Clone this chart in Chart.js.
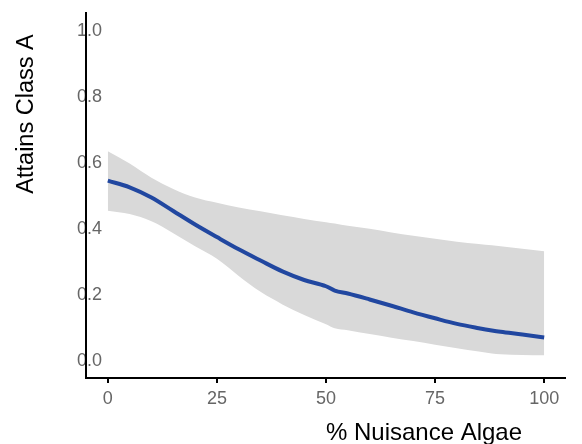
<!DOCTYPE html>
<html>
<head>
<meta charset="utf-8">
<script src="https://cdn.jsdelivr.net/npm/chart.js@4/dist/chart.umd.min.js"></script>
<style>
html,body{margin:0;padding:0;background:#fff;}
#wrap{width:582px;height:444px;position:relative;}
</style>
</head>
<body>
<div id="wrap"><canvas id="c" width="582" height="444"></canvas></div>
<script>
const xValues = [0, 5, 10, 15, 20, 25, 30, 35, 40, 45, 50, 52, 55, 60, 65, 70, 75, 80, 85, 88, 90, 95, 100];
const fitValues = [0.548, 0.528, 0.497, 0.456, 0.415, 0.377, 0.340, 0.306, 0.273, 0.247, 0.228, 0.215, 0.206, 0.188, 0.169, 0.149, 0.131, 0.114, 0.101, 0.094, 0.090, 0.082, 0.073];
const upperValues = [0.637, 0.600, 0.557, 0.523, 0.497, 0.481, 0.467, 0.455, 0.443, 0.432, 0.422, 0.418, 0.411, 0.402, 0.391, 0.381, 0.372, 0.363, 0.356, 0.352, 0.349, 0.342, 0.334];
const lowerValues = [0.457, 0.447, 0.425, 0.389, 0.349, 0.311, 0.259, 0.211, 0.173, 0.141, 0.113, 0.101, 0.095, 0.083, 0.072, 0.062, 0.051, 0.040, 0.030, 0.024, 0.022, 0.020, 0.019];
const xTicks = [0, 25, 50, 75, 100];
const yTicks = [0.0, 0.2, 0.4, 0.6, 0.8, 1.0];
const xTitle = "% Nuisance Algae";
const yTitle = "Attains Class A";

const pts = arr => xValues.map((x, i) => ({x: x, y: arr[i]}));

const axesPlugin = {
  id: 'axesPlugin',
  afterDraw(chart) {
    const ctx = chart.ctx;
    const ca = chart.chartArea;
    ctx.save();
    ctx.strokeStyle = '#000';
    ctx.lineWidth = 2;
    ctx.beginPath();
    ctx.moveTo(ca.left, ca.top - 3);
    ctx.lineTo(ca.left, ca.bottom);
    ctx.lineTo(ca.right, ca.bottom);
    ctx.stroke();
    ctx.fillStyle = '#000';
    ctx.textAlign = 'center';
    ctx.textBaseline = 'alphabetic';
    ctx.font = '24px "Liberation Sans", Arial, sans-serif';
    ctx.fillText(xTitle, 424, 440);
    ctx.font = '23.5px "Liberation Sans", Arial, sans-serif';
    ctx.translate(33, 114);
    ctx.rotate(-Math.PI / 2);
    ctx.fillText(yTitle, 0, 0);
    ctx.restore();
  }
};

new Chart(document.getElementById('c'), {
  type: 'line',
  data: {
    datasets: [
      {data: pts(upperValues), fill: '+1', backgroundColor: '#d9d9d9', borderWidth: 0, pointRadius: 0, order: 2, cubicInterpolationMode: 'monotone'},
      {data: pts(lowerValues), fill: false, borderWidth: 0, pointRadius: 0, order: 3, cubicInterpolationMode: 'monotone'},
      {data: pts(fitValues), fill: false, borderColor: '#2147a0', borderWidth: 4, pointRadius: 0, order: 1, borderCapStyle: 'butt', cubicInterpolationMode: 'monotone'}
    ]
  },
  plugins: [axesPlugin],
  options: {
    responsive: false,
    animation: false,
    layout: {padding: {top: 15, right: 16, left: 0, bottom: 0}},
    plugins: {legend: {display: false}, tooltip: {enabled: false}},
    scales: {
      x: {
        type: 'linear', min: -5, max: 105,
        afterBuildTicks: s => { s.ticks = xTicks.map(v => ({value: v})); },
        afterFit: s => { s.height = 66; },
        grid: {display: true, drawOnChartArea: false, drawTicks: true, tickLength: 5, color: '#000', lineWidth: 2},
        border: {display: false},
        ticks: {color: '#666', font: {size: 18, family: '"Liberation Sans", Arial, sans-serif'}, padding: 5, callback: v => String(v)}
      },
      y: {
        type: 'linear', min: -0.05, max: 1.05,
        afterBuildTicks: s => { s.ticks = yTicks.map(v => ({value: v})); },
        afterFit: s => { s.width = 86; },
        grid: {display: false, drawTicks: false},
        border: {display: false},
        ticks: {mirror: true, color: '#666', font: {size: 18, family: '"Liberation Sans", Arial, sans-serif'}, padding: -9, callback: v => v.toFixed(1)}
      }
    }
  }
});
</script>
</body>
</html>
